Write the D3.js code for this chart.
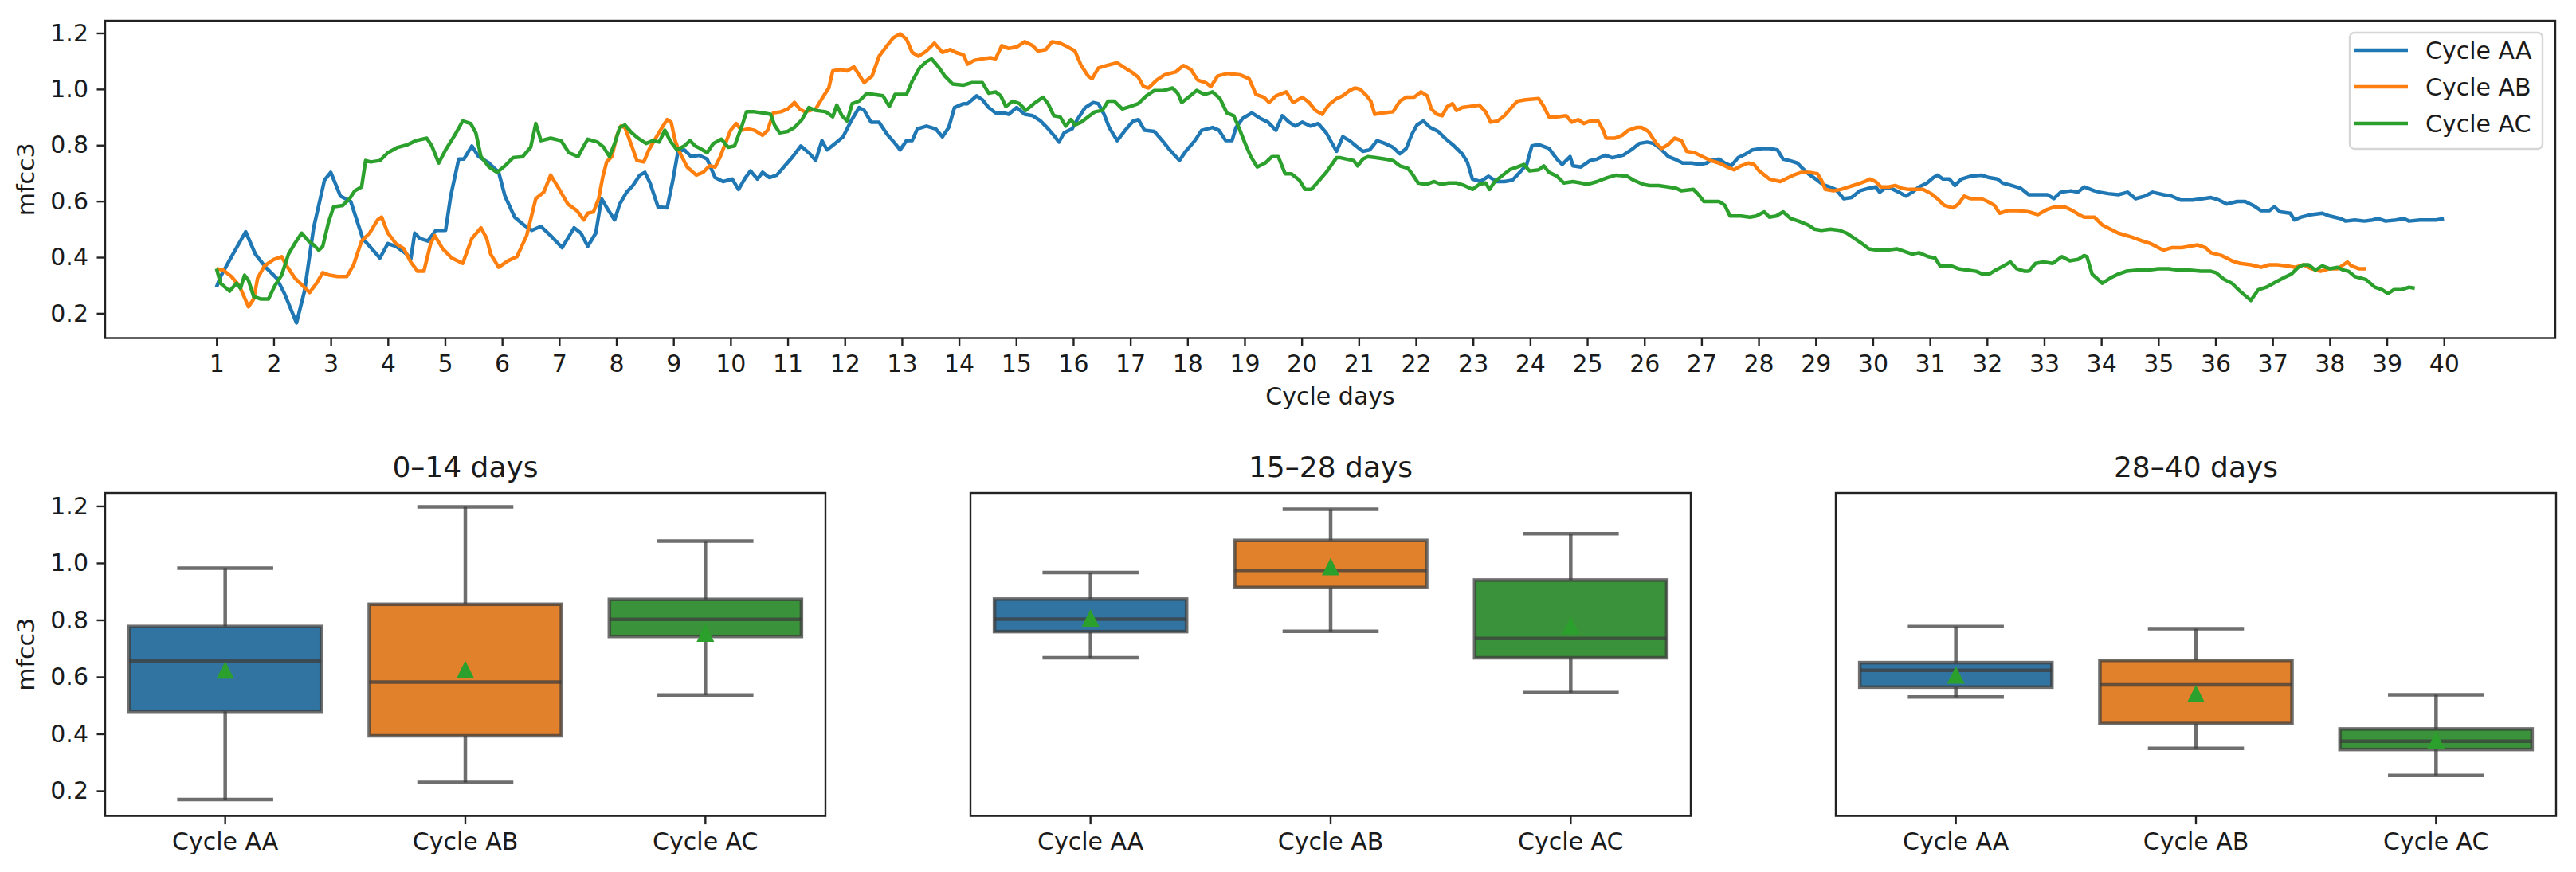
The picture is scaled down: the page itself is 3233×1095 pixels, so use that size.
<!DOCTYPE html>
<html>
<head>
<meta charset="utf-8">
<script src="https://cdn.jsdelivr.net/npm/d3@7"></script>
<style>
  body { margin: 0; background: #fff; }
  text { font-family: "DejaVu Sans", sans-serif; fill: #1a1a1a; }
</style>
</head>
<body>
<svg id="chart" width="3233" height="1095"></svg>
<script>

// series names and tab10 colours
var cycles = ["Cycle AA", "Cycle AB", "Cycle AC"];
var lineColors = ["#1f77b4", "#ff7f0e", "#2ca02c"];
var boxColors = ["#3274a1", "#e1812c", "#3a923a"];

// x tick labels of the top chart (cycle days)
var dayTicks = d3.range(1, 41);
var valueTicks = [0.2, 0.4, 0.6, 0.8, 1.0, 1.2];

// mfcc3 per cycle day: [day, value]
var cycleAA = [
  [1.00,0.293],[1.07,0.331],[1.26,0.401],[1.51,0.491],[1.68,0.411],[1.86,0.364],[2.05,0.326],[2.19,0.270],[2.40,0.166],[2.54,0.279],
  [2.70,0.505],[2.89,0.675],[3.00,0.703],[3.17,0.618],[3.35,0.599],[3.56,0.467],[3.72,0.430],[3.86,0.397],[4.00,0.449],[4.14,0.439],
  [4.33,0.411],[4.40,0.392],[4.47,0.486],[4.56,0.467],[4.70,0.458],[4.84,0.496],[5.01,0.496],[5.10,0.618],[5.24,0.750],[5.33,0.750],
  [5.47,0.797],[5.59,0.759],[5.77,0.736],[5.94,0.703],[6.05,0.618],[6.22,0.543],[6.38,0.515],[6.52,0.496],[6.68,0.510],[6.85,0.477],
  [7.05,0.434],[7.15,0.467],[7.26,0.505],[7.38,0.486],[7.50,0.439],[7.64,0.486],[7.74,0.609],[7.85,0.571],[7.97,0.533],[8.06,0.590],
  [8.18,0.632],[8.29,0.656],[8.41,0.693],[8.50,0.703],[8.59,0.665],[8.73,0.580],[8.89,0.576],[8.99,0.675],[9.08,0.778],[9.19,0.783],
  [9.31,0.759],[9.45,0.764],[9.59,0.750],[9.73,0.684],[9.87,0.670],[10.03,0.679],[10.14,0.642],[10.26,0.684],[10.35,0.708],[10.47,0.679],
  [10.56,0.703],[10.68,0.684],[10.81,0.693],[10.95,0.726],[11.09,0.759],[11.23,0.797],[11.39,0.769],[11.49,0.745],[11.60,0.816],[11.69,0.783],
  [11.83,0.806],[11.97,0.830],[12.11,0.886],[12.25,0.934],[12.34,0.924],[12.46,0.882],[12.60,0.882],[12.74,0.839],[12.88,0.806],[12.97,0.783],
  [13.08,0.816],[13.18,0.816],[13.27,0.858],[13.43,0.868],[13.59,0.858],[13.71,0.830],[13.82,0.863],[13.92,0.934],[14.08,0.948],[14.15,0.948],
  [14.31,0.976],[14.41,0.962],[14.52,0.934],[14.64,0.915],[14.78,0.915],[14.87,0.910],[15.01,0.934],[15.15,0.910],[15.29,0.905],[15.43,0.886],
  [15.54,0.863],[15.66,0.835],[15.75,0.811],[15.84,0.844],[15.98,0.858],[16.07,0.891],[16.21,0.934],[16.35,0.952],[16.44,0.948],[16.54,0.910],
  [16.63,0.863],[16.77,0.816],[16.91,0.853],[17.05,0.886],[17.14,0.891],[17.25,0.853],[17.42,0.849],[17.56,0.816],[17.69,0.783],[17.86,0.745],
  [17.97,0.778],[18.13,0.816],[18.25,0.853],[18.44,0.863],[18.55,0.853],[18.67,0.816],[18.78,0.816],[18.85,0.863],[18.97,0.896],[19.13,0.915],
  [19.27,0.896],[19.41,0.882],[19.55,0.853],[19.66,0.905],[19.78,0.882],[19.89,0.868],[20.01,0.882],[20.15,0.868],[20.29,0.877],[20.43,0.844],
  [20.61,0.778],[20.72,0.830],[20.84,0.816],[20.95,0.797],[21.07,0.778],[21.19,0.783],[21.32,0.816],[21.46,0.806],[21.60,0.792],[21.72,0.769],
  [21.83,0.788],[21.93,0.839],[22.02,0.872],[22.13,0.886],[22.25,0.863],[22.39,0.849],[22.53,0.821],[22.67,0.797],[22.81,0.769],[22.90,0.740],
  [22.99,0.679],[23.13,0.670],[23.27,0.689],[23.41,0.670],[23.55,0.670],[23.69,0.675],[23.82,0.703],[23.94,0.731],[24.03,0.797],[24.15,0.802],
  [24.33,0.788],[24.47,0.750],[24.56,0.731],[24.70,0.759],[24.75,0.726],[24.89,0.722],[25.05,0.745],[25.17,0.750],[25.31,0.764],[25.44,0.755],
  [25.63,0.764],[25.77,0.783],[25.91,0.806],[26.05,0.811],[26.16,0.806],[26.28,0.788],[26.42,0.759],[26.53,0.750],[26.67,0.736],[26.83,0.736],
  [26.97,0.731],[27.09,0.736],[27.16,0.745],[27.31,0.750],[27.41,0.736],[27.52,0.726],[27.64,0.755],[27.78,0.769],[27.89,0.783],[28.06,0.788],
  [28.19,0.788],[28.33,0.783],[28.43,0.750],[28.54,0.745],[28.68,0.736],[28.77,0.717],[28.87,0.698],[29.00,0.679],[29.12,0.660],[29.24,0.651],
  [29.35,0.642],[29.49,0.609],[29.63,0.613],[29.77,0.637],[29.93,0.646],[30.05,0.651],[30.12,0.632],[30.21,0.646],[30.32,0.646],[30.46,0.632],
  [30.58,0.618],[30.69,0.632],[30.81,0.651],[30.95,0.665],[31.06,0.684],[31.13,0.693],[31.23,0.679],[31.34,0.679],[31.44,0.656],[31.55,0.679],
  [31.71,0.689],[31.90,0.693],[32.04,0.684],[32.18,0.679],[32.27,0.665],[32.43,0.656],[32.59,0.646],[32.73,0.623],[32.87,0.623],[33.06,0.623],
  [33.17,0.609],[33.29,0.632],[33.47,0.637],[33.59,0.632],[33.70,0.651],[33.88,0.637],[33.98,0.632],[34.12,0.627],[34.30,0.623],[34.46,0.632],
  [34.60,0.609],[34.76,0.618],[34.90,0.632],[35.09,0.623],[35.23,0.618],[35.39,0.604],[35.60,0.604],[35.78,0.609],[35.92,0.613],[36.06,0.604],
  [36.20,0.590],[36.38,0.599],[36.52,0.599],[36.66,0.585],[36.80,0.566],[36.94,0.566],[37.03,0.580],[37.13,0.562],[37.31,0.557],[37.38,0.533],
  [37.50,0.543],[37.68,0.552],[37.87,0.557],[38.00,0.547],[38.19,0.538],[38.28,0.529],[38.44,0.533],[38.61,0.529],[38.75,0.533],[38.84,0.538],
  [38.98,0.529],[39.16,0.533],[39.30,0.538],[39.39,0.529],[39.58,0.533],[39.72,0.533],[39.86,0.533],[40.00,0.538]
];

var cycleAB = [
  [1.00,0.359],[1.12,0.354],[1.26,0.331],[1.40,0.298],[1.56,0.223],[1.65,0.251],[1.72,0.326],[1.84,0.369],[2.00,0.392],[2.14,0.402],
  [2.23,0.369],[2.37,0.326],[2.51,0.298],[2.63,0.274],[2.75,0.307],[2.86,0.345],[2.98,0.336],[3.12,0.331],[3.28,0.331],[3.40,0.373],
  [3.54,0.458],[3.68,0.486],[3.82,0.533],[3.89,0.543],[4.00,0.486],[4.14,0.449],[4.28,0.430],[4.40,0.383],[4.52,0.350],[4.63,0.350],
  [4.75,0.449],[4.82,0.477],[4.96,0.430],[5.12,0.397],[5.31,0.378],[5.47,0.467],[5.63,0.505],[5.73,0.467],[5.80,0.411],[5.94,0.364],
  [6.10,0.387],[6.26,0.402],[6.43,0.477],[6.59,0.609],[6.73,0.632],[6.85,0.693],[6.99,0.646],[7.15,0.590],[7.31,0.566],[7.43,0.533],
  [7.50,0.557],[7.60,0.562],[7.69,0.609],[7.76,0.684],[7.83,0.740],[7.92,0.759],[8.01,0.835],[8.08,0.868],[8.15,0.863],[8.27,0.797],
  [8.36,0.745],[8.48,0.740],[8.57,0.783],[8.69,0.825],[8.80,0.863],[8.89,0.891],[8.96,0.882],[9.03,0.816],[9.10,0.778],[9.24,0.722],
  [9.40,0.693],[9.52,0.703],[9.63,0.726],[9.73,0.722],[9.82,0.759],[9.91,0.806],[10.00,0.853],[10.10,0.877],[10.19,0.853],[10.31,0.858],
  [10.42,0.853],[10.56,0.835],[10.65,0.853],[10.75,0.915],[10.88,0.919],[11.00,0.929],[11.12,0.952],[11.21,0.929],[11.30,0.919],[11.49,0.929],
  [11.60,0.966],[11.72,1.004],[11.79,1.065],[11.93,1.070],[12.04,1.065],[12.16,1.079],[12.25,1.051],[12.34,1.023],[12.48,1.047],[12.60,1.117],
  [12.74,1.155],[12.85,1.183],[12.97,1.197],[13.08,1.178],[13.18,1.131],[13.29,1.117],[13.43,1.136],[13.57,1.164],[13.71,1.131],[13.85,1.141],
  [13.94,1.131],[14.08,1.122],[14.15,1.089],[14.27,1.103],[14.41,1.108],[14.55,1.112],[14.64,1.108],[14.75,1.155],[14.87,1.145],[15.01,1.150],
  [15.15,1.169],[15.29,1.155],[15.38,1.136],[15.52,1.141],[15.63,1.169],[15.77,1.164],[15.91,1.150],[16.03,1.136],[16.14,1.084],[16.26,1.047],
  [16.33,1.037],[16.44,1.075],[16.58,1.084],[16.77,1.094],[16.88,1.079],[17.02,1.061],[17.14,1.042],[17.23,1.009],[17.32,1.004],[17.46,1.032],
  [17.60,1.051],[17.79,1.061],[17.93,1.084],[18.06,1.070],[18.18,1.032],[18.32,1.023],[18.41,1.009],[18.53,1.047],[18.71,1.056],[18.92,1.051],
  [19.08,1.037],[19.20,0.981],[19.34,0.971],[19.43,0.952],[19.55,0.976],[19.73,0.990],[19.85,0.952],[20.01,0.971],[20.13,0.952],[20.24,0.924],
  [20.36,0.910],[20.47,0.943],[20.61,0.966],[20.72,0.976],[20.84,0.995],[20.93,1.004],[21.02,1.000],[21.14,0.976],[21.21,0.957],[21.28,0.910],
  [21.42,0.915],[21.60,0.919],[21.72,0.957],[21.83,0.971],[21.97,0.971],[22.09,0.990],[22.20,0.976],[22.27,0.929],[22.37,0.910],[22.46,0.905],
  [22.55,0.938],[22.64,0.948],[22.71,0.924],[22.81,0.934],[22.94,0.938],[23.11,0.943],[23.22,0.919],[23.31,0.882],[23.43,0.886],[23.55,0.905],
  [23.69,0.938],[23.78,0.957],[23.92,0.962],[24.15,0.966],[24.24,0.938],[24.33,0.901],[24.47,0.901],[24.63,0.905],[24.73,0.882],[24.84,0.891],
  [24.94,0.877],[25.05,0.886],[25.19,0.886],[25.28,0.853],[25.33,0.825],[25.49,0.825],[25.61,0.835],[25.72,0.853],[25.86,0.863],[25.95,0.863],
  [26.07,0.849],[26.21,0.806],[26.30,0.788],[26.42,0.802],[26.53,0.825],[26.65,0.816],[26.74,0.778],[26.88,0.773],[27.02,0.759],[27.16,0.745],
  [27.31,0.736],[27.45,0.722],[27.57,0.712],[27.69,0.726],[27.82,0.736],[27.92,0.731],[28.01,0.708],[28.19,0.679],[28.38,0.670],[28.47,0.679],
  [28.61,0.693],[28.75,0.703],[28.89,0.703],[29.03,0.698],[29.10,0.675],[29.17,0.642],[29.31,0.637],[29.44,0.642],[29.58,0.651],[29.72,0.660],
  [29.86,0.670],[29.95,0.679],[30.05,0.670],[30.14,0.651],[30.28,0.651],[30.39,0.656],[30.51,0.646],[30.63,0.642],[30.79,0.642],[30.88,0.642],
  [31.02,0.627],[31.13,0.609],[31.25,0.585],[31.41,0.576],[31.50,0.590],[31.60,0.618],[31.71,0.609],[31.90,0.609],[32.01,0.599],[32.13,0.585],
  [32.22,0.557],[32.36,0.566],[32.55,0.566],[32.73,0.562],[32.89,0.552],[33.06,0.571],[33.19,0.580],[33.36,0.580],[33.50,0.566],[33.61,0.552],
  [33.70,0.543],[33.88,0.543],[34.02,0.515],[34.16,0.500],[34.30,0.486],[34.53,0.472],[34.72,0.458],[34.86,0.449],[35.00,0.434],[35.09,0.425],
  [35.23,0.434],[35.41,0.434],[35.55,0.439],[35.69,0.444],[35.83,0.434],[35.92,0.416],[36.11,0.406],[36.29,0.387],[36.43,0.378],[36.62,0.373],
  [36.80,0.364],[36.94,0.373],[37.08,0.373],[37.26,0.369],[37.40,0.364],[37.54,0.373],[37.68,0.359],[37.84,0.350],[38.00,0.359],[38.14,0.359],
  [38.24,0.373],[38.31,0.383],[38.38,0.369],[38.51,0.359],[38.63,0.359]
];

var cycleAC = [
  [1.00,0.359],[1.07,0.307],[1.23,0.279],[1.35,0.307],[1.42,0.289],[1.49,0.336],[1.56,0.317],[1.65,0.260],[1.77,0.251],[1.91,0.251],
  [2.02,0.298],[2.14,0.336],[2.26,0.411],[2.37,0.449],[2.49,0.486],[2.61,0.458],[2.70,0.444],[2.79,0.425],[2.86,0.439],[2.96,0.524],
  [3.05,0.580],[3.21,0.585],[3.33,0.609],[3.42,0.637],[3.54,0.651],[3.61,0.745],[3.70,0.740],[3.86,0.745],[4.00,0.773],[4.17,0.792],
  [4.35,0.802],[4.49,0.816],[4.68,0.825],[4.77,0.797],[4.89,0.736],[5.01,0.783],[5.17,0.835],[5.31,0.886],[5.45,0.877],[5.54,0.844],
  [5.63,0.759],[5.77,0.722],[5.91,0.703],[6.05,0.726],[6.19,0.755],[6.36,0.759],[6.50,0.792],[6.59,0.877],[6.68,0.816],[6.85,0.825],
  [7.03,0.816],[7.17,0.773],[7.33,0.759],[7.43,0.797],[7.50,0.821],[7.67,0.811],[7.78,0.792],[7.88,0.759],[7.97,0.806],[8.06,0.863],
  [8.15,0.872],[8.27,0.844],[8.38,0.825],[8.52,0.806],[8.64,0.816],[8.75,0.811],[8.85,0.853],[8.94,0.816],[9.06,0.783],[9.19,0.797],
  [9.29,0.816],[9.38,0.797],[9.47,0.788],[9.59,0.773],[9.70,0.806],[9.84,0.821],[9.96,0.792],[10.07,0.797],[10.19,0.863],[10.28,0.919],
  [10.42,0.919],[10.56,0.915],[10.70,0.910],[10.77,0.872],[10.86,0.844],[11.00,0.849],[11.12,0.863],[11.25,0.891],[11.37,0.934],[11.49,0.924],
  [11.67,0.919],[11.79,0.901],[11.86,0.943],[11.95,0.905],[12.04,0.886],[12.13,0.948],[12.25,0.957],[12.39,0.985],[12.50,0.981],[12.67,0.976],
  [12.78,0.938],[12.88,0.981],[13.08,0.981],[13.18,1.028],[13.31,1.075],[13.43,1.098],[13.52,1.108],[13.64,1.079],[13.75,1.047],[13.89,1.018],
  [14.08,1.014],[14.22,1.023],[14.41,1.023],[14.52,0.985],[14.64,0.990],[14.73,0.976],[14.82,0.938],[14.94,0.957],[15.06,0.948],[15.17,0.924],
  [15.31,0.948],[15.47,0.971],[15.56,0.948],[15.66,0.905],[15.77,0.901],[15.87,0.868],[15.96,0.891],[16.03,0.872],[16.14,0.882],[16.26,0.901],
  [16.38,0.919],[16.51,0.924],[16.61,0.957],[16.72,0.957],[16.86,0.929],[17.00,0.938],[17.14,0.948],[17.28,0.976],[17.42,0.995],[17.58,0.995],
  [17.74,1.004],[17.83,0.985],[17.90,0.952],[18.02,0.971],[18.16,0.995],[18.30,0.981],[18.44,0.990],[18.57,0.966],[18.69,0.915],[18.81,0.905],
  [18.90,0.863],[19.01,0.806],[19.11,0.759],[19.22,0.722],[19.36,0.736],[19.48,0.759],[19.59,0.759],[19.71,0.698],[19.82,0.698],[19.96,0.675],
  [20.06,0.642],[20.17,0.642],[20.29,0.670],[20.43,0.703],[20.61,0.755],[20.68,0.755],[20.79,0.750],[20.91,0.745],[20.98,0.726],[21.07,0.750],
  [21.16,0.759],[21.30,0.755],[21.46,0.750],[21.60,0.745],[21.72,0.726],[21.86,0.717],[21.95,0.693],[22.04,0.665],[22.18,0.660],[22.32,0.670],
  [22.44,0.660],[22.57,0.665],[22.71,0.665],[22.85,0.656],[22.99,0.642],[23.11,0.660],[23.22,0.665],[23.29,0.642],[23.38,0.670],[23.50,0.689],
  [23.64,0.712],[23.78,0.722],[23.89,0.731],[23.99,0.708],[24.15,0.712],[24.24,0.726],[24.33,0.703],[24.47,0.689],[24.59,0.665],[24.75,0.670],
  [24.89,0.665],[25.00,0.660],[25.17,0.670],[25.35,0.684],[25.51,0.693],[25.70,0.689],[25.81,0.675],[25.98,0.660],[26.09,0.656],[26.25,0.656],
  [26.42,0.651],[26.56,0.646],[26.65,0.637],[26.86,0.642],[26.95,0.623],[27.04,0.599],[27.16,0.599],[27.31,0.599],[27.41,0.585],[27.50,0.547],
  [27.69,0.547],[27.85,0.543],[27.96,0.547],[28.10,0.562],[28.19,0.543],[28.31,0.547],[28.43,0.562],[28.56,0.538],[28.70,0.529],[28.87,0.515],
  [28.98,0.500],[29.10,0.496],[29.26,0.500],[29.42,0.496],[29.54,0.486],[29.68,0.467],[29.81,0.449],[29.93,0.430],[30.09,0.425],[30.23,0.425],
  [30.42,0.430],[30.56,0.420],[30.69,0.411],[30.81,0.416],[30.97,0.402],[31.09,0.397],[31.18,0.369],[31.37,0.369],[31.50,0.359],[31.67,0.354],
  [31.81,0.350],[31.92,0.340],[32.04,0.340],[32.15,0.354],[32.29,0.369],[32.41,0.383],[32.52,0.359],[32.66,0.350],[32.73,0.350],[32.85,0.378],
  [32.99,0.383],[33.15,0.378],[33.31,0.402],[33.45,0.387],[33.59,0.392],[33.70,0.406],[33.75,0.402],[33.84,0.340],[34.02,0.307],[34.16,0.326],
  [34.30,0.340],[34.44,0.350],[34.63,0.354],[34.81,0.354],[35.00,0.359],[35.18,0.359],[35.37,0.354],[35.55,0.354],[35.74,0.350],[35.92,0.350],
  [36.01,0.345],[36.15,0.321],[36.29,0.307],[36.43,0.279],[36.62,0.246],[36.75,0.284],[36.89,0.293],[37.06,0.312],[37.19,0.326],[37.33,0.340],
  [37.45,0.364],[37.54,0.373],[37.63,0.373],[37.75,0.354],[37.87,0.369],[38.00,0.359],[38.14,0.364],[38.24,0.354],[38.33,0.350],[38.44,0.331],
  [38.63,0.321],[38.79,0.293],[38.92,0.284],[39.02,0.270],[39.12,0.284],[39.25,0.284],[39.39,0.293],[39.49,0.289]
];

// box plot panels
var periods = ["0\u201314 days", "15\u201328 days", "28\u201340 days"];
// per cycle: [lower whisker, q1, median, q3, upper whisker, mean]
var days0to14 = [
  [0.169, 0.479, 0.656, 0.777, 0.982, 0.622],
  [0.229, 0.393, 0.582, 0.855, 1.197, 0.624],
  [0.536, 0.742, 0.802, 0.872, 1.077, 0.752]
];
var days15to28 = [
  [0.667, 0.759, 0.803, 0.873, 0.966, 0.805],
  [0.760, 0.914, 0.974, 1.079, 1.189, 0.985],
  [0.545, 0.667, 0.735, 0.940, 1.103, 0.779]
];
var days28to40 = [
  [0.529, 0.564, 0.623, 0.650, 0.777, 0.605],
  [0.349, 0.436, 0.572, 0.658, 0.769, 0.539],
  [0.254, 0.345, 0.374, 0.417, 0.537, 0.376]
];
var periodStats = [days0to14, days15to28, days28to40];

var svg = d3.select("#chart");

var FONT = 30;
var tickLen = 10.5, tickPad = 10.5;

function styleAxis(g) {
  g.select(".domain").remove();
  g.selectAll(".tick line").attr("stroke", "#222").attr("stroke-width", 2.4);
  g.selectAll(".tick text").attr("font-size", FONT).attr("fill", "#1a1a1a");
}

// ---------------- top line chart ----------------
var topBox = {left: 132, right: 3207, top: 26, bottom: 424.5};

var x = d3.scaleLinear()
    .domain([-0.95, 41.95])
    .range([topBox.left, topBox.right]);

var y = d3.scaleLinear()
    .domain([0.1116, 1.244])
    .range([topBox.bottom, topBox.top]);

svg.append("g")
    .attr("transform", "translate(0," + topBox.bottom + ")")
    .call(d3.axisBottom(x).tickValues(dayTicks).tickFormat(d3.format("d"))
      .tickSize(tickLen).tickPadding(tickPad))
    .call(styleAxis);

svg.append("g")
    .attr("transform", "translate(" + topBox.left + ",0)")
    .call(d3.axisLeft(y).tickValues(valueTicks).tickFormat(d3.format(".1f"))
      .tickSize(tickLen).tickPadding(tickPad))
    .call(styleAxis);

var line = d3.line()
    .x(function(d) { return x(d[0]); })
    .y(function(d) { return y(d[1]); });

var series = [cycleAA, cycleAB, cycleAC];

svg.append("g").attr("class", "lines").selectAll("path")
    .data(series)
  .enter().append("path")
    .attr("d", line)
    .attr("fill", "none")
    .attr("stroke", function(d, i) { return lineColors[i]; })
    .attr("stroke-width", 4.5)
    .attr("stroke-linejoin", "round");

// frame
svg.append("rect")
    .attr("x", topBox.left).attr("y", topBox.top)
    .attr("width", topBox.right - topBox.left)
    .attr("height", topBox.bottom - topBox.top)
    .attr("fill", "none").attr("stroke", "#222").attr("stroke-width", 2.4);

svg.append("text")
    .attr("x", (topBox.left + topBox.right) / 2)
    .attr("y", 508)
    .attr("text-anchor", "middle")
    .attr("font-size", FONT)
    .text("Cycle days");

svg.append("text")
    .attr("transform", "translate(43," + (topBox.top + topBox.bottom) / 2 + ") rotate(-90)")
    .attr("text-anchor", "middle")
    .attr("font-size", FONT)
    .text("mfcc3");

// legend, upper right
var legend = svg.append("g").attr("class", "legend");
legend.append("rect")
    .attr("x", 2949).attr("y", 41)
    .attr("width", 242).attr("height", 146)
    .attr("rx", 6)
    .attr("fill", "#fff").attr("fill-opacity", 0.8)
    .attr("stroke", "#d6d6d6").attr("stroke-width", 2.4);

var entry = legend.selectAll("g.entry")
    .data(cycles)
  .enter().append("g")
    .attr("class", "entry")
    .attr("transform", function(d, i) { return "translate(2955," + (63 + i * 46) + ")"; });

entry.append("line")
    .attr("x1", 0).attr("x2", 67)
    .attr("stroke", function(d, i) { return lineColors[i]; })
    .attr("stroke-width", 4.5);

entry.append("text")
    .attr("x", 89)
    .attr("dy", "0.35em")
    .attr("font-size", FONT)
    .text(function(d) { return d; });

// ---------------- bottom box plots ----------------
var panelLefts = [132, 1218, 2304];
var panelWidth = 904;
var boxTop = 619, boxBottom = 1024.6;

var yb = d3.scaleLinear()
    .domain([0.1116, 1.246])
    .range([boxBottom, boxTop]);

var lineGray = "#3d3d3d";

periodStats.forEach(function(stats, p) {
  var left = panelLefts[p];
  var xb = d3.scaleBand()
      .domain(cycles)
      .range([left, left + panelWidth])
      .padding(0);

  var bw = xb.bandwidth() * 0.8;
  var panel = svg.append("g").attr("class", "panel");

  panel.append("g")
      .attr("transform", "translate(0," + boxBottom + ")")
      .call(d3.axisBottom(xb).tickSize(tickLen).tickPadding(tickPad))
      .call(styleAxis);

  if (p === 0) {
    panel.append("g")
        .attr("transform", "translate(" + left + ",0)")
        .call(d3.axisLeft(yb).tickValues(valueTicks).tickFormat(d3.format(".1f"))
          .tickSize(tickLen).tickPadding(tickPad))
        .call(styleAxis);

    panel.append("text")
        .attr("transform", "translate(43," + (boxTop + boxBottom) / 2 + ") rotate(-90)")
        .attr("text-anchor", "middle")
        .attr("font-size", FONT)
        .text("mfcc3");
  }

  var box = panel.selectAll("g.box")
      .data(stats)
    .enter().append("g")
      .attr("class", "box");

  function cx(i) { return xb(cycles[i]) + xb.bandwidth() / 2; }

  // whiskers
  box.append("line")
      .attr("x1", function(d, i) { return cx(i); })
      .attr("x2", function(d, i) { return cx(i); })
      .attr("y1", function(d) { return yb(d[0]); })
      .attr("y2", function(d) { return yb(d[1]); });
  box.append("line")
      .attr("x1", function(d, i) { return cx(i); })
      .attr("x2", function(d, i) { return cx(i); })
      .attr("y1", function(d) { return yb(d[3]); })
      .attr("y2", function(d) { return yb(d[4]); });

  // caps
  [0, 4].forEach(function(k) {
    box.append("line")
        .attr("x1", function(d, i) { return cx(i) - bw / 4; })
        .attr("x2", function(d, i) { return cx(i) + bw / 4; })
        .attr("y1", function(d) { return yb(d[k]); })
        .attr("y2", function(d) { return yb(d[k]); });
  });

  box.selectAll("line")
      .attr("stroke", lineGray)
      .attr("stroke-opacity", 0.75)
      .attr("stroke-width", 4.5);

  // the box itself
  box.append("rect")
      .attr("x", function(d, i) { return cx(i) - bw / 2; })
      .attr("width", bw)
      .attr("y", function(d) { return yb(d[3]); })
      .attr("height", function(d) { return yb(d[1]) - yb(d[3]); })
      .attr("fill", function(d, i) { return boxColors[i]; })
      .attr("stroke", lineGray)
      .attr("stroke-opacity", 0.75)
      .attr("stroke-width", 4.5);

  // median
  box.append("line")
      .attr("x1", function(d, i) { return cx(i) - bw / 2; })
      .attr("x2", function(d, i) { return cx(i) + bw / 2; })
      .attr("y1", function(d) { return yb(d[2]); })
      .attr("y2", function(d) { return yb(d[2]); })
      .attr("stroke", lineGray)
      .attr("stroke-opacity", 0.75)
      .attr("stroke-width", 4.5);

  // mean marker (green triangle)
  box.append("path")
      .attr("d", function(d, i) {
        var mx = cx(i), my = yb(d[5]), s = 9;
        return "M" + mx + "," + (my - s) + "L" + (mx - s) + "," + (my + s) + "L" + (mx + s) + "," + (my + s) + "Z";
      })
      .attr("fill", "#2ca02c")
      .attr("stroke", "#2ca02c")
      .attr("stroke-width", 2.5)
      .attr("stroke-linejoin", "miter");

  panel.append("rect")
      .attr("x", left).attr("y", boxTop)
      .attr("width", panelWidth).attr("height", boxBottom - boxTop)
      .attr("fill", "none").attr("stroke", "#222").attr("stroke-width", 2.4);

  panel.append("text")
      .attr("x", left + panelWidth / 2)
      .attr("y", 599)
      .attr("text-anchor", "middle")
      .attr("font-size", 36)
      .text(periods[p]);
});

</script>
</body>
</html>
